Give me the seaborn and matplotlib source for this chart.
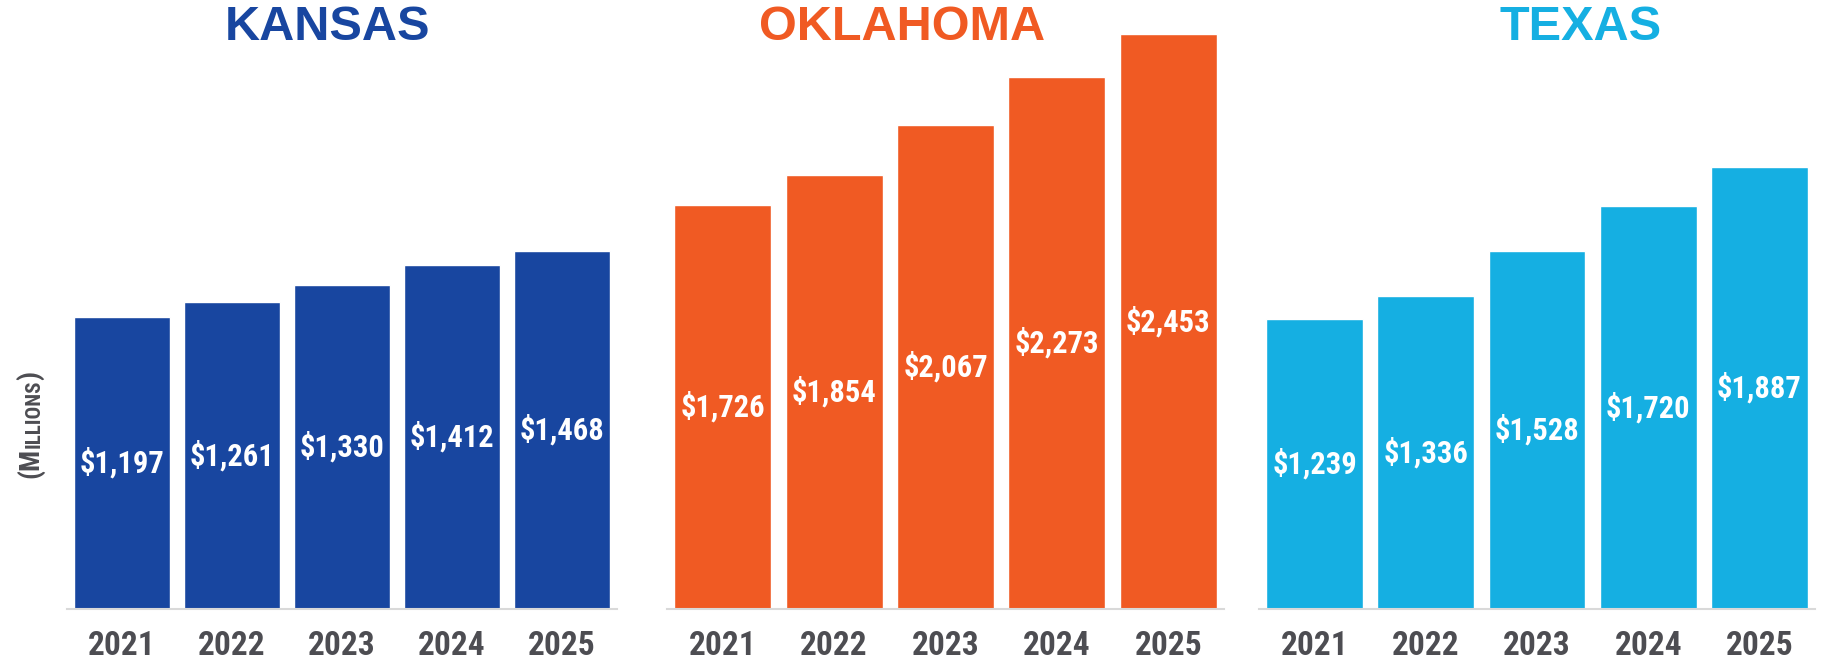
import matplotlib
matplotlib.use('Agg')
import matplotlib.pyplot as plt
import pandas as pd
import seaborn as sns

states = ['KANSAS', 'OKLAHOMA', 'TEXAS']
years = ['2021', '2022', '2023', '2024', '2025']
kansas_values = [1197, 1261, 1330, 1412, 1468]
oklahoma_values = [1726, 1854, 2067, 2273, 2453]
texas_values = [1239, 1336, 1528, 1720, 1887]
state_colors = ['#1846A0', '#F05A23', '#15AFE2']

rows = []
for state, vals in zip(states, [kansas_values, oklahoma_values, texas_values]):
    for y, v in zip(years, vals):
        rows.append({'State': state, 'Year': y, 'Value': v})
df = pd.DataFrame(rows)

sns.set_style('white')
# condensed face for labels (first installed one wins)
plt.rcParams['font.family'] = ['Liberation Sans Narrow', 'Roboto Condensed',
                               'Archivo Narrow', 'Liberation Sans', 'DejaVu Sans']

W, H = 1821, 665
fig = plt.figure(figsize=(W / 100, H / 100), dpi=100)

base = 609
# left, right in pixels, y top limit per panel
panels = [(67, 617, 2500), (667, 1224, 2600), (1259, 1815, 2600)]
title_x = [327, 902, 1581]
gray = '#4D4D52'
axis_gray = '#D9D9D9'

for i, state in enumerate(states):
    left, right, ytop = panels[i]
    ax = fig.add_axes([left / W, (H - base) / H, (right - left) / W, base / H])
    sub = df[df['State'] == state]
    sns.barplot(data=sub, x='Year', y='Value', color=state_colors[i],
                width=0.87, saturation=1, ax=ax)
    ax.set_xlim(-0.5, len(years) - 0.5)
    ax.set_ylim(0, ytop)
    ax.bar_label(ax.containers[0], labels=[f'${v:,}' for v in sub['Value']],
                 label_type='center', color='white', fontsize=22,
                 fontweight='bold')
    for side in ['left', 'right', 'top']:
        ax.spines[side].set_visible(False)
    ax.spines['bottom'].set_color(axis_gray)
    ax.spines['bottom'].set_linewidth(1.5)
    ax.set_yticks([])
    ax.set_xlabel('')
    ax.set_ylabel('')
    ax.set_xticks(range(len(years)))
    ax.set_xticklabels(years, fontsize=24, fontweight='bold', color=gray)
    ax.tick_params(axis='x', which='major', length=0, pad=15)
    ax.set_xticks([k - 0.5 for k in range(len(years) + 1)], minor=True)
    ax.tick_params(axis='x', which='minor', length=10, width=1.5,
                   color=axis_gray, direction='out')
    fig.text(title_x[i] / W, 1 - 28 / H, state, ha='center', va='center',
             fontsize=35, fontweight='bold', color=state_colors[i],
             family=['Liberation Sans', 'DejaVu Sans'])

# small caps y label: (MILLIONS)
t1 = fig.text(44 / W, (H - 478) / H, '(M', rotation=90, ha='right', va='bottom',
              fontsize=20, fontweight='bold', color=gray)
t2 = plt.annotate('ILLIONS', xy=(1, 1), xycoords=t1, ha='right', va='bottom',
                  rotation=90, fontsize=15, fontweight='bold', color=gray,
                  annotation_clip=False)
t3 = plt.annotate(')', xy=(1, 1), xycoords=(t1, t2), ha='right', va='bottom',
                  rotation=90, fontsize=20, fontweight='bold', color=gray,
                  annotation_clip=False)

fig.savefig('out.png', dpi=100)
